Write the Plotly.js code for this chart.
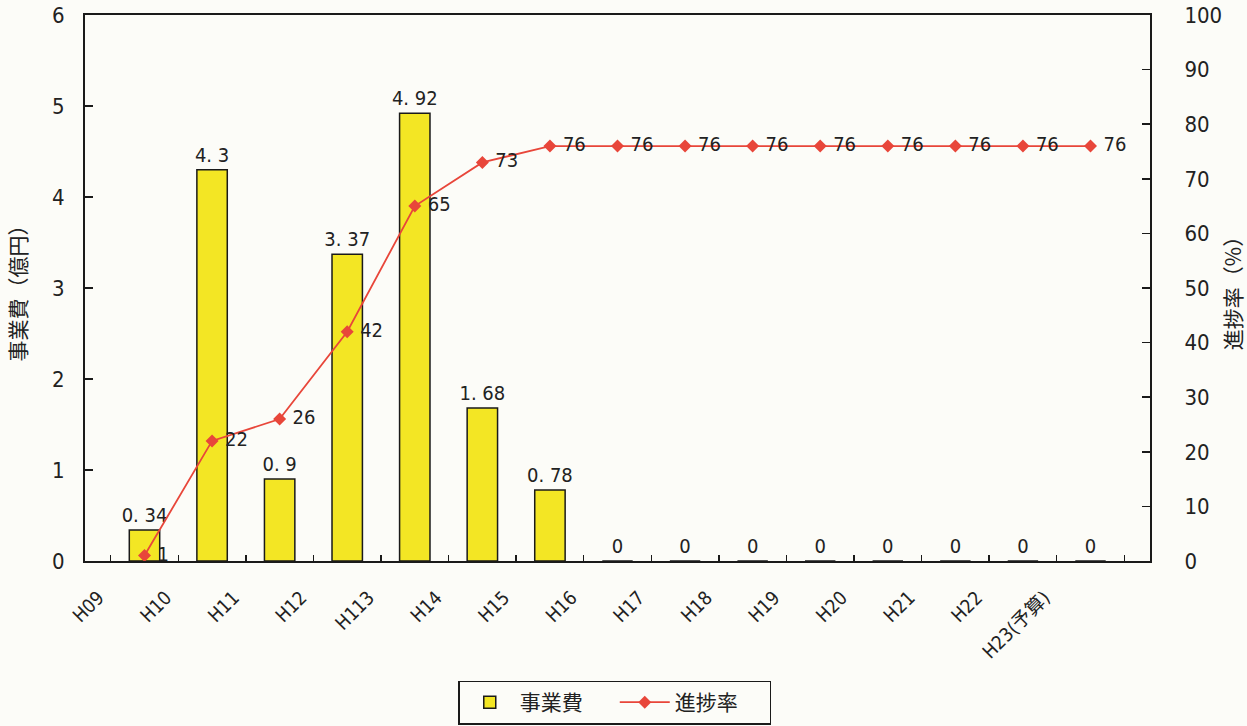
<!DOCTYPE html>
<html>
<head>
<meta charset="utf-8">
<script src="https://cdn.plot.ly/plotly-3.0.1.min.js"></script>
<style>html,body{margin:0;padding:0;background:#fcfcf8;}</style>
</head>
<body>
<div id="chart" style="width:1247px;height:726px;"></div>
<script>
const categories = ["H09","H10","H11","H12","H113","H14","H15","H16","H17","H18","H19","H20","H21","H22","H23(予算)"];
const jigyohi = [0.34, 4.3, 0.9, 3.37, 4.92, 1.68, 0.78, 0, 0, 0, 0, 0, 0, 0, 0];
const shinchoku = [1, 22, 26, 42, 65, 73, 76, 76, 76, 76, 76, 76, 76, 76, 76];

const numFont = "'DejaVu Sans Condensed', 'Noto Sans CJK JP', sans-serif";
const jpFont = "'Noto Sans CJK JP', sans-serif";

const barText = jigyohi.map(v => String(v).replace(".", ". "));

const traces = [
  {
    type: "bar",
    name: "事業費",
    x: categories,
    y: jigyohi,
    width: 0.45,
    marker: {color: "#F3E624", line: {color: "#1a1a1a", width: 1.5}},
    text: barText,
    textposition: "outside",
    constraintext: "none",
    cliponaxis: false,
    textfont: {family: numFont, size: 20, color: "#222"},
    hoverinfo: "x+y"
  },
  {
    type: "scatter",
    mode: "lines+markers+text",
    name: "進捗率",
    x: categories,
    y: shinchoku,
    yaxis: "y2",
    line: {color: "#E8463A", width: 1.8},
    marker: {symbol: "diamond", size: 10, color: "#E8463A"},
    text: shinchoku.map(v => " " + v),
    textposition: "middle right",
    cliponaxis: false,
    textfont: {family: numFont, size: 20, color: "#222"}
  }
];

const layout = {
  width: 1247,
  height: 726,
  paper_bgcolor: "#fcfcf8",
  plot_bgcolor: "#fcfcf8",
  margin: {l: 85, r: 97, t: 15, b: 165, autoexpand: false},
  showlegend: true,
  xaxis: {
    type: "category",
    automargin: false,
    showline: true,
    linecolor: "#1a1a1a",
    linewidth: 2,
    mirror: true,
    ticks: "inside",
    ticklen: 6,
    tickwidth: 1.5,
    tickcolor: "#1a1a1a",
    tickson: "boundaries",
    tickangle: -45,
    ticklabelshift: -46,
    ticklabelstandoff: 16,
    tickfont: {family: numFont, size: 19, color: "#222"},
    showgrid: false,
    zeroline: false
  },
  yaxis: {
    range: [0, 6],
    dtick: 1,
    automargin: false,
    showline: true,
    linecolor: "#1a1a1a",
    linewidth: 2,
    ticks: "inside",
    ticklen: 8,
    tickwidth: 1.5,
    tickcolor: "#1a1a1a",
    ticklabeloverflow: "allow",
    ticklabelstandoff: 14,
    tickfont: {family: numFont, size: 22, color: "#222"},
    showgrid: false,
    zeroline: false,
    title: {text: "事業費（億円）", font: {family: jpFont, size: 21, color: "#222"}, standoff: 20}
  },
  yaxis2: {
    range: [0, 100],
    dtick: 10,
    automargin: false,
    overlaying: "y",
    side: "right",
    showline: true,
    linecolor: "#1a1a1a",
    linewidth: 2,
    ticks: "inside",
    ticklen: 8,
    tickwidth: 1.5,
    tickcolor: "#1a1a1a",
    ticklabeloverflow: "allow",
    ticklabelstandoff: 28,
    tickfont: {family: numFont, size: 22, color: "#222"},
    showgrid: false,
    zeroline: false,
    title: {text: "進捗率（%）", font: {family: jpFont, size: 21, color: "#222"}, standoff: 18}
  },
  legend: {
    orientation: "h",
    x: 0.493,
    xref: "container",
    xanchor: "center",
    y: 0.002,
    yref: "container",
    yanchor: "bottom",
    bordercolor: "#1a1a1a",
    borderwidth: 1.5,
    bgcolor: "#fcfcf8",
    entrywidth: 90,
    itemwidth: 50,
    font: {family: jpFont, size: 21, color: "#222"}
  }
};

Plotly.newPlot("chart", traces, layout, {displayModeBar: false, staticPlot: true});
</script>
</body>
</html>
